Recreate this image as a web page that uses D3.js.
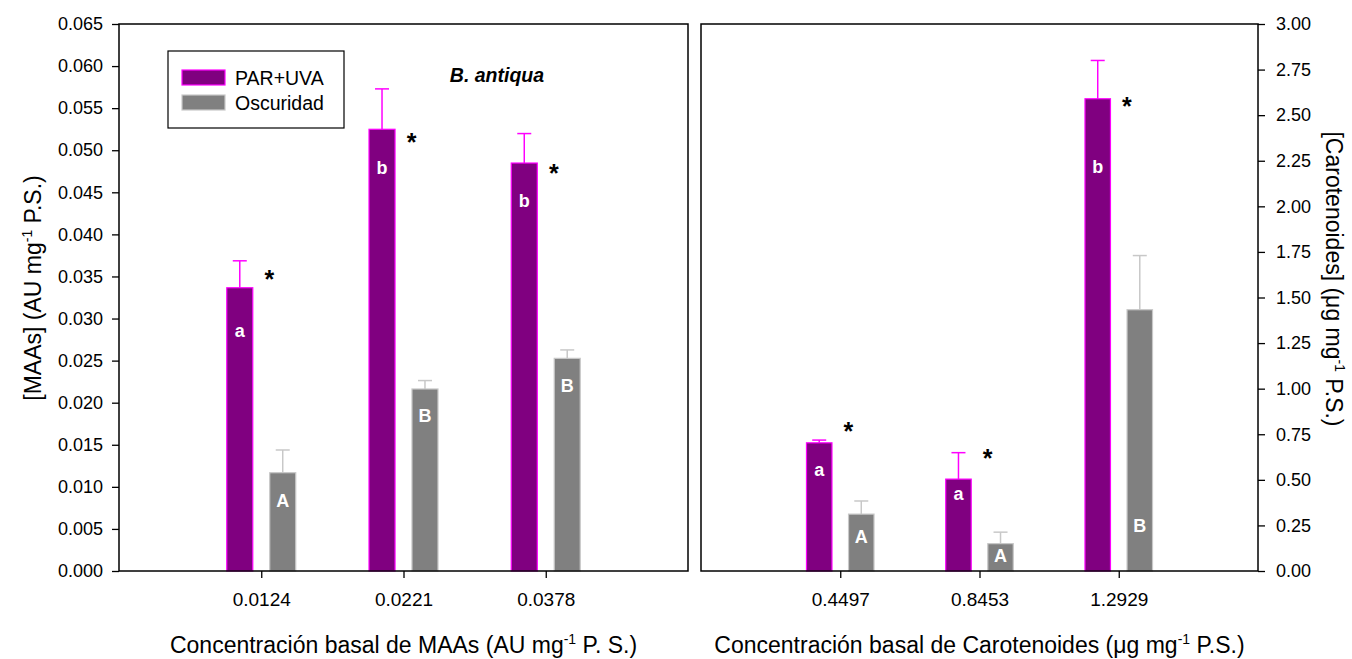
<!DOCTYPE html>
<html><head><meta charset="utf-8">
<script src="https://cdn.jsdelivr.net/npm/d3@7"></script>
<style>
body{margin:0;background:#fff}
svg{display:block}
text{font-family:Arial,'Liberation Sans',sans-serif}
</style>
</head><body>
<svg id="c" width="1352" height="659"></svg>
<script>
// ---------- data ----------
const maaCategories = ["0.0124", "0.0221", "0.0378"];
const maaParUva = [0.03366, 0.05249, 0.04848];
const maaParUvaErr = [0.0032, 0.0048, 0.0035];
const maaOscuridad = [0.01168, 0.02163, 0.02527];
const maaOscuridadErr = [0.0027, 0.0010, 0.0010];
const maaParLetters = ["a", "b", "b"];
const maaOscLetters = ["A", "B", "B"];
const maaParLetterAt = [0.0284, 0.0480, 0.0440];
const maaOscLetterAt = [0.0084, 0.0185, 0.0221];
const maaStarAt = [0.0354, 0.0516, 0.0480];
const maaTicks = d3.range(0, 0.0651, 0.005);

const carCategories = ["0.4497", "0.8453", "1.2929"];
const carParUva = [0.703, 0.504, 2.59];
const carParUvaErr = [0.015, 0.145, 0.21];
const carOscuridad = [0.312, 0.150, 1.433];
const carOscuridadErr = [0.072, 0.063, 0.297];
const carParLetters = ["a", "a", "b"];
const carOscLetters = ["A", "A", "B"];
const carParLetterAt = [0.546, 0.414, 2.218];
const carOscLetterAt = [0.188, 0.087, 0.252];
const carStarAt = [0.798, 0.651, 2.581];
const carTicks = d3.range(0, 3.001, 0.25);

const seriesNames = ["PAR+UVA", "Oscuridad"];

// ---------- layout ----------
const svg = d3.select("#c");
const plotTop = 24, plotBottom = 571;
const FONT = "Arial,'Liberation Sans',sans-serif";

function drawPanel(o) {
  const x = d3.scaleLinear().domain([0, 4]).range([o.x0, o.x1]);
  const y = d3.scaleLinear().domain([0, o.max]).range([plotBottom, plotTop]);
  const step = x(1) - x(0);
  const barW = step * 0.183, off = step * 0.151, capW = 14;
  const g = svg.append("g");

  const series = [
    {vals: o.par, err: o.parErr, letters: o.parLetters, at: o.parLetterAt, fill: "#800080", stroke: "#ff00ff", dx: -off},
    {vals: o.osc, err: o.oscErr, letters: o.oscLetters, at: o.oscLetterAt, fill: "#808080", stroke: "#c8c8c8", dx: off}
  ];

  series.forEach(s => {
    const sg = g.append("g");
    sg.selectAll("line.eb").data(s.vals).join("line")
      .attr("x1", (d, i) => x(i + 1) + s.dx).attr("x2", (d, i) => x(i + 1) + s.dx)
      .attr("y1", d => y(d)).attr("y2", (d, i) => y(d + s.err[i]))
      .attr("stroke", s.stroke).attr("stroke-width", 1.5);
    sg.selectAll("line.cap").data(s.vals).join("line")
      .attr("x1", (d, i) => x(i + 1) + s.dx - capW / 2).attr("x2", (d, i) => x(i + 1) + s.dx + capW / 2)
      .attr("y1", (d, i) => y(d + s.err[i])).attr("y2", (d, i) => y(d + s.err[i]))
      .attr("stroke", s.stroke).attr("stroke-width", 1.5);
    sg.selectAll("rect").data(s.vals).join("rect")
      .attr("x", (d, i) => x(i + 1) + s.dx - barW / 2)
      .attr("y", d => y(d))
      .attr("width", barW)
      .attr("height", d => y(0) - y(d))
      .attr("fill", s.fill).attr("stroke", s.stroke).attr("stroke-width", 1.2);
    sg.selectAll("text").data(s.letters).join("text")
      .attr("x", (d, i) => x(i + 1) + s.dx)
      .attr("y", (d, i) => y(s.at[i]))
      .attr("dy", d => d === "a" ? "0.27em" : "0.36em")
      .attr("text-anchor", "middle")
      .attr("fill", "#fff").attr("font-weight", "bold").attr("font-size", 18)
      .text(d => d);
  });

  g.selectAll("text.star").data(o.starAt).join("text")
    .attr("class", "star")
    .attr("x", (d, i) => x(i + 1) + 8)
    .attr("y", d => y(d))
    .attr("dy", "0.58em")
    .attr("text-anchor", "middle")
    .attr("font-size", 25).attr("font-weight", "bold")
    .text("*");

  g.append("rect").attr("x", o.x0).attr("y", plotTop)
    .attr("width", o.x1 - o.x0).attr("height", plotBottom - plotTop)
    .attr("fill", "none").attr("stroke", "#000").attr("stroke-width", 1.5);

  const yAxis = (o.side === "left" ? d3.axisLeft(y) : d3.axisRight(y))
    .tickValues(o.ticks).tickFormat(d3.format(o.fmt)).tickSize(7)
    .tickPadding(o.side === "left" ? 9 : 11);
  const ya = g.append("g")
    .attr("transform", `translate(${o.side === "left" ? o.x0 : o.x1},0)`)
    .call(yAxis);
  ya.select(".domain").remove();
  ya.selectAll("line").attr("stroke", "#000").attr("stroke-width", 1.3);
  ya.selectAll("text").attr("font-size", 18).attr("font-family", FONT).attr("fill", "#000");

  const xAxis = d3.axisBottom(x).tickValues([1, 2, 3])
    .tickFormat(d => o.cats[d - 1]).tickSize(7).tickPadding(15);
  const xa = g.append("g").attr("transform", `translate(0,${plotBottom})`).call(xAxis);
  xa.select(".domain").remove();
  xa.selectAll("line").attr("stroke", "#000").attr("stroke-width", 1.3);
  xa.selectAll("text").attr("font-size", 19).attr("font-family", FONT).attr("fill", "#000");

  const xt = g.append("text")
    .attr("x", (o.x0 + o.x1) / 2).attr("y", 653)
    .attr("text-anchor", "middle").attr("font-size", 23);
  xt.append("tspan").text(o.xTitle[0]);
  xt.append("tspan").attr("dy", -9).attr("font-size", 14).text("-1");
  xt.append("tspan").attr("dy", 9).text(o.xTitle[1]);

  const yt = g.append("text")
    .attr("transform", o.side === "left"
      ? `translate(${o.yTitleX},${o.yTitleY}) rotate(-90)`
      : `translate(${o.yTitleX},${o.yTitleY}) rotate(90)`)
    .attr("text-anchor", "middle").attr("font-size", 23);
  yt.append("tspan").text(o.yTitle[0]);
  yt.append("tspan").attr("dy", -9).attr("font-size", 14).text("-1");
  yt.append("tspan").attr("dy", 9).text(o.yTitle[1]);
}

drawPanel({
  x0: 119, x1: 688, max: 0.065, ticks: maaTicks, fmt: ".3f", side: "left",
  cats: maaCategories,
  par: maaParUva, parErr: maaParUvaErr, osc: maaOscuridad, oscErr: maaOscuridadErr,
  parLetters: maaParLetters, oscLetters: maaOscLetters,
  parLetterAt: maaParLetterAt, oscLetterAt: maaOscLetterAt, starAt: maaStarAt,
  xTitle: ["Concentración basal de MAAs (AU mg", " P. S.)"],
  yTitle: ["[MAAs] (AU mg", " P.S.)"], yTitleX: 41, yTitleY: 288
});

drawPanel({
  x0: 701, x1: 1258, max: 3.0, ticks: carTicks, fmt: ".2f", side: "right",
  cats: carCategories,
  par: carParUva, parErr: carParUvaErr, osc: carOscuridad, oscErr: carOscuridadErr,
  parLetters: carParLetters, oscLetters: carOscLetters,
  parLetterAt: carParLetterAt, oscLetterAt: carOscLetterAt, starAt: carStarAt,
  xTitle: ["Concentración basal de Carotenoides (\u03bcg mg", " P.S.)"],
  yTitle: ["[Carotenoides] (\u03bcg mg", " P.S.)"], yTitleX: 1326, yTitleY: 279
});

const legend = svg.append("g");
legend.append("rect").attr("x", 168).attr("y", 51).attr("width", 176).attr("height", 77)
  .attr("fill", "#fff").attr("stroke", "#000").attr("stroke-width", 1.2);
const legendFills = ["#800080", "#808080"];
const legendStrokes = ["#ff00ff", "#c8c8c8"];
legend.selectAll("rect.sw").data(seriesNames).join("rect").attr("class", "sw")
  .attr("x", 182).attr("y", (d, i) => 70 + i * 25).attr("width", 43).attr("height", 15)
  .attr("fill", (d, i) => legendFills[i]).attr("stroke", (d, i) => legendStrokes[i]).attr("stroke-width", 1.2);
legend.selectAll("text").data(seriesNames).join("text")
  .attr("x", 235).attr("y", (d, i) => 78 + i * 25).attr("dy", "0.36em")
  .attr("font-size", 19.5).text(d => d);

svg.append("text").attr("x", 497).attr("y", 75).attr("dy", "0.36em")
  .attr("text-anchor", "middle").attr("font-size", 19.5)
  .attr("font-weight", "bold").attr("font-style", "italic")
  .text("B. antiqua");
</script>
</body></html>
